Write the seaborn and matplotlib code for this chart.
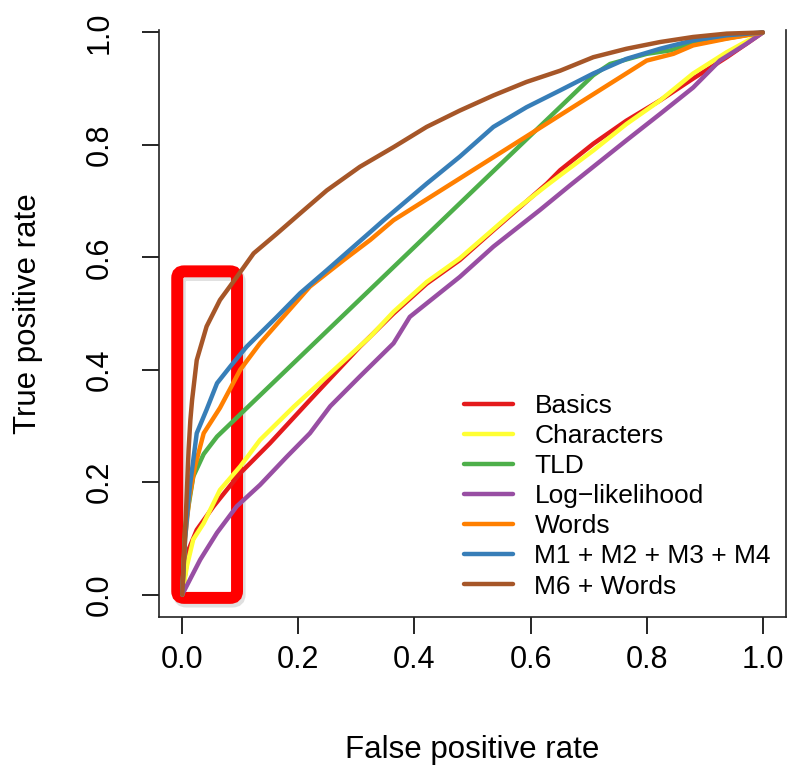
import numpy as np
import pandas as pd
import matplotlib
matplotlib.use("Agg")
import matplotlib.pyplot as plt
from matplotlib.patches import FancyBboxPatch
import seaborn as sns

# ROC curves
basics_fpr = [0, 0.011, 0.025, 0.054, 0.10, 0.151, 0.22, 0.306, 0.364, 0.421, 0.478, 0.536, 0.576, 0.628, 0.651, 0.708, 0.765, 0.823, 0.880, 0.938, 1.0]
basics_tpr = [0, 0.080, 0.115, 0.157, 0.216, 0.269, 0.346, 0.441, 0.500, 0.553, 0.595, 0.648, 0.684, 0.731, 0.755, 0.802, 0.843, 0.879, 0.918, 0.956, 1.0]

chars_fpr = [0, 0.008, 0.019, 0.037, 0.065, 0.10, 0.134, 0.192, 0.249, 0.324, 0.364, 0.421, 0.478, 0.536, 0.576, 0.628, 0.651, 0.708, 0.765, 0.823, 0.880, 0.938, 1.0]
chars_tpr = [0, 0.050, 0.098, 0.127, 0.186, 0.228, 0.275, 0.334, 0.388, 0.459, 0.503, 0.556, 0.598, 0.650, 0.686, 0.728, 0.746, 0.790, 0.837, 0.879, 0.927, 0.965, 1.0]

tld_fpr = [0, 0.005, 0.019, 0.037, 0.060, 0.708, 0.737, 0.80, 0.84, 0.88, 1.0]
tld_tpr = [0, 0.120, 0.210, 0.250, 0.281, 0.924, 0.944, 0.962, 0.968, 0.980, 1.0]

loglik_fpr = [0, 0.031, 0.060, 0.094, 0.134, 0.180, 0.220, 0.255, 0.306, 0.364, 0.392, 0.478, 0.536, 0.616, 0.668, 0.708, 0.765, 0.823, 0.880, 0.926, 0.972, 1.0]
loglik_tpr = [0, 0.062, 0.110, 0.157, 0.195, 0.245, 0.287, 0.335, 0.388, 0.447, 0.494, 0.565, 0.619, 0.684, 0.728, 0.761, 0.808, 0.855, 0.902, 0.950, 0.980, 1.0]

words_fpr = [0, 0.005, 0.012, 0.017, 0.022, 0.037, 0.065, 0.10, 0.134, 0.174, 0.220, 0.278, 0.324, 0.364, 0.80, 0.846, 0.880, 0.938, 1.0]
words_tpr = [0, 0.100, 0.170, 0.199, 0.228, 0.287, 0.332, 0.400, 0.447, 0.494, 0.548, 0.595, 0.631, 0.666, 0.950, 0.962, 0.977, 0.989, 1.0]

m1234_fpr = [0, 0.005, 0.010, 0.014, 0.025, 0.042, 0.060, 0.083, 0.111, 0.163, 0.203, 0.249, 0.324, 0.347, 0.421, 0.478, 0.536, 0.593, 0.651, 0.708, 0.765, 0.823, 0.880, 0.938, 1.0]
m1234_tpr = [0, 0.100, 0.160, 0.199, 0.287, 0.329, 0.376, 0.406, 0.441, 0.494, 0.536, 0.577, 0.645, 0.666, 0.731, 0.779, 0.832, 0.867, 0.897, 0.927, 0.953, 0.971, 0.986, 0.995, 1.0]

m6w_fpr = [0, 0.005, 0.011, 0.014, 0.017, 0.025, 0.042, 0.065, 0.094, 0.123, 0.163, 0.203, 0.249, 0.306, 0.364, 0.421, 0.478, 0.536, 0.593, 0.651, 0.708, 0.765, 0.823, 0.880, 0.938, 1.0]
m6w_tpr = [0, 0.110, 0.258, 0.310, 0.346, 0.417, 0.477, 0.524, 0.565, 0.607, 0.642, 0.678, 0.719, 0.761, 0.796, 0.832, 0.861, 0.888, 0.912, 0.932, 0.956, 0.971, 0.983, 0.992, 0.998, 1.0]

labels = ["Basics", "Characters", "TLD", "Log\u2212likelihood", "Words",
          "M1 + M2 + M3 + M4", "M6 + Words"]
colors = ["#E41A1C", "#FFFF33", "#4DAF4A", "#984EA3", "#FF7F00", "#377EB8", "#A65628"]
curves = [(basics_fpr, basics_tpr), (chars_fpr, chars_tpr), (tld_fpr, tld_tpr),
          (loglik_fpr, loglik_tpr), (words_fpr, words_tpr),
          (m1234_fpr, m1234_tpr), (m6w_fpr, m6w_tpr)]

sns.set_style("ticks")
plt.rcParams['font.family'] = ['Liberation Sans', 'DejaVu Sans']
plt.rcParams['text.color'] = 'black'
plt.rcParams['axes.labelcolor'] = 'black'
plt.rcParams['xtick.color'] = 'black'
plt.rcParams['ytick.color'] = 'black'

fig = plt.figure(figsize=(7.9, 7.72), dpi=100)
ax = fig.add_axes([159 / 790, 155 / 772, 627 / 790, 607 / 772])

# highlight box around the low-FPR region (with a faint drop shadow)
shadow = FancyBboxPatch((-0.0046, -0.012), 0.103, 0.581,
                        boxstyle="round,pad=0,rounding_size=0.012",
                        fc="none", ec="#cccccc", lw=9, alpha=0.6,
                        zorder=0.8, clip_on=False)
ax.add_patch(shadow)
box = FancyBboxPatch((-0.0086, -0.006), 0.103, 0.581,
                     boxstyle="round,pad=0,rounding_size=0.012",
                     fc="none", ec="#FF0000", lw=8.6, zorder=1, clip_on=False)
ax.add_patch(box)

for (fpr, tpr), lab, col in zip(curves, labels, colors):
    df = pd.DataFrame({"fpr": fpr, "tpr": tpr})
    sns.lineplot(data=df, x="fpr", y="tpr", ax=ax, color=col, lw=3.2,
                 label=lab, sort=False, estimator=None, zorder=3)

ax.set_xlim(-0.04, 1.04)
ax.set_ylim(-0.04, 1.04)
ticks = [0, 0.2, 0.4, 0.6, 0.8, 1.0]
ax.set_xticks(ticks)
ax.set_yticks(ticks)
ax.set_xticklabels([f"{t:.1f}" for t in ticks])
ax.set_yticklabels([f"{t:.1f}" for t in ticks], rotation=90, va="center")
ax.tick_params(axis="both", direction="out", length=12, width=1.2,
               labelsize=22, color="black", labelcolor="black")
ax.tick_params(axis="x", pad=8)
ax.tick_params(axis="y", pad=20)
for s in ax.spines.values():
    s.set_color("#222222")
    s.set_linewidth(1.2)
ax.spines["top"].set_visible(False)
ax.spines["left"].set_bounds(-0.04, 1.004)
ax.spines["right"].set_bounds(-0.04, 1.004)

ax.set_xlabel("False positive rate", fontsize=22.5)
ax.set_ylabel("True positive rate", fontsize=22.5)
ax.xaxis.set_label_coords(0.5, -0.195)
ax.yaxis.set_label_coords(-0.185, 0.5)

leg = ax.legend(loc="lower left", bbox_to_anchor=(0.47, 0.013), frameon=False,
                fontsize=19, handlelength=1.86, handletextpad=0.8,
                labelspacing=0.23, borderaxespad=0.0)

fig.savefig("out.png", dpi=100)
